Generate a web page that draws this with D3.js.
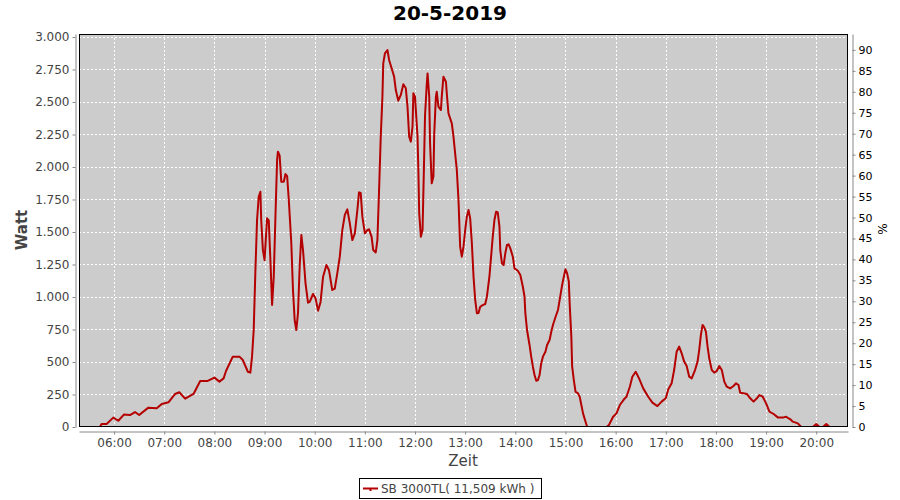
<!DOCTYPE html>
<html><head><meta charset="utf-8">
<script src="https://cdn.jsdelivr.net/npm/d3@7"></script>
<style>body{margin:0;background:#fff}svg{display:block}text{font-family:"DejaVu Sans",sans-serif}</style>
</head><body><svg id="c" width="900" height="500"></svg>
<script>
const chartTitle = "20-5-2019";
const seriesName = "SB 3000TL( 11,509 kWh )";
const xLabel = "Zeit", yLabel = "Watt", y2Label = "%";
const times = ["05:35","05:43","05:45","05:51","05:59","06:05","06:12","06:19","06:25","06:30","06:41","06:51","06:57","07:05","07:13","07:18","07:25","07:35","07:43","07:52","08:00","08:06","08:11","08:14","08:22","08:30","08:34","08:40","08:43","08:45","08:47","08:49","08:51","08:53","08:55","08:56","08:58","09:00","09:03","09:05","09:07","09:09","09:11","09:13","09:15","09:16","09:18","09:20","09:23","09:25","09:27","09:29","09:32","09:34","09:36","09:38","09:40","09:42","09:44","09:46","09:49","09:52","09:54","09:58","10:01","10:04","10:07","10:10","10:14","10:17","10:21","10:24","10:27","10:30","10:33","10:36","10:39","10:42","10:45","10:48","10:51","10:53","10:55","10:57","11:00","11:03","11:05","11:08","11:10","11:13","11:15","11:17","11:19","11:21","11:22","11:24","11:27","11:29","11:32","11:35","11:37","11:40","11:43","11:46","11:49","11:51","11:53","11:55","11:57","11:58","12:00","12:01","12:03","12:04","12:05","12:07","12:09","12:10","12:12","12:14","12:15","12:17","12:18","12:20","12:22","12:23","12:25","12:26","12:28","12:31","12:32","12:34","12:37","12:38","12:40","12:42","12:44","12:46","12:48","12:50","12:52","12:53","12:54","12:56","12:58","13:00","13:02","13:04","13:06","13:08","13:10","13:12","13:14","13:16","13:18","13:21","13:24","13:26","13:29","13:31","13:33","13:35","13:37","13:39","13:41","13:42","13:44","13:46","13:48","13:50","13:52","13:54","13:57","13:59","14:03","14:06","14:09","14:11","14:12","14:14","14:17","14:19","14:21","14:23","14:25","14:27","14:29","14:31","14:33","14:36","14:38","14:41","14:43","14:45","14:48","14:51","14:52","14:54","14:56","14:58","15:00","15:02","15:04","15:05","15:07","15:08","15:10","15:12","15:15","15:17","15:19","15:21","15:24","15:26","15:49","15:52","15:57","16:01","16:05","16:10","16:13","16:17","16:20","16:24","16:28","16:33","16:39","16:44","16:50","16:55","17:00","17:03","17:07","17:10","17:13","17:16","17:19","17:22","17:25","17:28","17:31","17:35","17:38","17:40","17:42","17:44","17:46","17:48","17:50","17:52","17:55","17:58","18:01","18:04","18:07","18:10","18:13","18:17","18:21","18:24","18:27","18:29","18:33","18:37","18:41","18:45","18:49","18:52","18:56","19:00","19:04","19:09","19:14","19:21","19:24","19:29","19:32","19:38","19:42","19:56","20:00","20:04","20:08","20:12","20:16","20:20"];
const watts = [0,0,23,23,72,48,97,92,115,92,149,144,177,190,254,267,218,254,354,354,380,349,374,433,541,541,515,425,418,541,746,1195,1592,1771,1810,1592,1361,1284,1605,1590,1284,938,1156,1618,2054,2118,2090,1887,1887,1946,1930,1746,1413,1054,823,746,877,1233,1477,1361,1105,956,962,1023,990,895,962,1156,1246,1208,1054,1064,1182,1310,1515,1631,1674,1567,1438,1490,1669,1805,1800,1618,1490,1515,1520,1464,1361,1343,1438,1823,2233,2541,2797,2874,2900,2823,2759,2695,2592,2510,2554,2636,2605,2464,2233,2195,2310,2567,2540,2438,2233,1977,1644,1464,1515,1800,2400,2631,2720,2541,2182,1874,1926,2259,2541,2579,2464,2438,2541,2695,2656,2567,2413,2374,2336,2233,2105,1977,1746,1567,1387,1310,1387,1515,1618,1669,1605,1413,1156,977,875,877,925,938,946,1002,1156,1310,1464,1592,1656,1650,1541,1361,1259,1246,1336,1400,1405,1374,1310,1220,1202,1169,1079,1002,875,746,631,541,464,400,356,361,400,490,541,579,631,669,733,785,844,900,938,1015,1092,1156,1213,1182,1118,951,695,464,361,272,259,233,169,105,41,0,0,15,79,105,169,213,233,310,387,425,374,297,233,187,161,195,221,290,336,438,579,618,567,503,469,387,374,438,503,592,708,785,767,733,618,528,438,418,431,469,438,349,310,297,315,336,323,264,259,254,221,195,221,246,233,182,118,100,74,74,79,59,41,28,0,0,23,0,0,23,0,0];
const wattTicks = [0,250,500,750,1000,1250,1500,1750,2000,2250,2500,2750,3000];
const pctTicks = [0,5,10,15,20,25,30,35,40,45,50,55,60,65,70,75,80,85,90];
const hourTicks = ["06:00","07:00","08:00","09:00","10:00","11:00","12:00","13:00","14:00","15:00","16:00","17:00","18:00","19:00","20:00"];
const xDomain = ["05:18","20:38"];

const parse = d3.timeParse("%H:%M");
const data = times.map((t, i) => ({ t: parse(t), v: watts[i] }));
const L = 79, R = 848, T = 34, B = 427;
const x = d3.scaleTime().domain(xDomain.map(parse)).range([L, R]);
const y = d3.scaleLinear().domain([0, 3023]).range([B, T]);
const y2 = d3.scaleLinear().domain([0, 93.8]).range([B, T]);
const svg = d3.select("#c");
const txt = "#444", axc = "#888";

svg.append("text").attr("x", 450).attr("y", 20).attr("text-anchor", "middle")
  .attr("font-size", 20).attr("font-weight", "bold").attr("fill", "#000").text(chartTitle);

svg.append("rect").attr("x", L).attr("y", T).attr("width", R - L).attr("height", B - T).attr("fill", "#cccccc");

const grid = svg.append("g").attr("stroke", "#fff").attr("stroke-width", 1).attr("stroke-dasharray", "2,2");
grid.selectAll("line.h").data(wattTicks).join("line").attr("class", "h")
  .attr("x1", L).attr("x2", R).attr("y1", d => Math.round(y(d)) + 0.5).attr("y2", d => Math.round(y(d)) + 0.5);
grid.selectAll("line.v").data(hourTicks.map(parse)).join("line").attr("class", "v")
  .attr("y1", T).attr("y2", B).attr("x1", d => Math.round(x(d)) + 0.5).attr("x2", d => Math.round(x(d)) + 0.5);

const clip = svg.append("clipPath").attr("id", "pc").append("rect").attr("x", L).attr("y", T).attr("width", R - L).attr("height", B - T);
svg.append("path").datum(data).attr("clip-path", "url(#pc)")
  .attr("fill", "none").attr("stroke", "#b40000").attr("stroke-width", 2).attr("stroke-linejoin", "round")
  .attr("d", d3.line().x(d => x(d.t)).y(d => y(d.v)));

svg.append("rect").attr("x", L + 0.5).attr("y", T + 0.5).attr("width", R - L - 1).attr("height", B - T - 1)
  .attr("fill", "none").attr("stroke", "#000").attr("stroke-width", 1);

function styleAxis(g, size) {
  g.select(".domain").attr("stroke", axc);
  g.selectAll(".tick line").attr("stroke", axc);
  g.selectAll(".tick text").attr("fill", txt).attr("font-size", size).attr("font-family", "DejaVu Sans, sans-serif");
}
const fmtW = d => d3.format(",")(d).replace(/,/g, ".");
const gl = svg.append("g").attr("transform", "translate(75.5,0)")
  .call(d3.axisLeft(y).tickValues(wattTicks).tickFormat(fmtW).tickSize(3).tickSizeOuter(0).tickPadding(3));
styleAxis(gl, 12);
const gr = svg.append("g").attr("transform", "translate(852.5,0)")
  .call(d3.axisRight(y2).tickValues(pctTicks).tickSize(3).tickSizeOuter(0).tickPadding(3));
styleAxis(gr, 11);
gr.selectAll(".tick text").attr("fill", "#000");
const gb = svg.append("g").attr("transform", "translate(0,431.5)")
  .call(d3.axisBottom(x).tickValues(hourTicks.map(parse)).tickFormat(d3.timeFormat("%H:%M")).tickSize(3).tickSizeOuter(0).tickPadding(4));
styleAxis(gb, 12);

svg.append("text").attr("transform", "translate(27,230) rotate(-90)").attr("text-anchor", "middle")
  .attr("font-size", 15).attr("font-weight", "bold").attr("fill", txt).text(yLabel);
svg.append("text").attr("x", 463).attr("y", 466).attr("text-anchor", "middle")
  .attr("font-size", 15).attr("fill", txt).text(xLabel);
svg.append("text").attr("transform", "translate(887,229) rotate(-90)").attr("text-anchor", "middle")
  .attr("font-size", 12).attr("fill", "#000").text(y2Label);

const lg = svg.append("g");
lg.append("rect").attr("x", 359.5).attr("y", 478.5).attr("width", 182).attr("height", 20).attr("fill", "#fff").attr("stroke", "#000");
lg.append("line").attr("x1", 363).attr("x2", 378).attr("y1", 488.5).attr("y2", 488.5).attr("stroke", "#b40000").attr("stroke-width", 2);
lg.append("rect").attr("x", 369.5).attr("y", 488).attr("width", 2).attr("height", 3).attr("fill", "#b40000");
lg.append("text").attr("x", 381).attr("y", 493).attr("font-size", 12).attr("fill", txt).text(seriesName);
</script></body></html>
